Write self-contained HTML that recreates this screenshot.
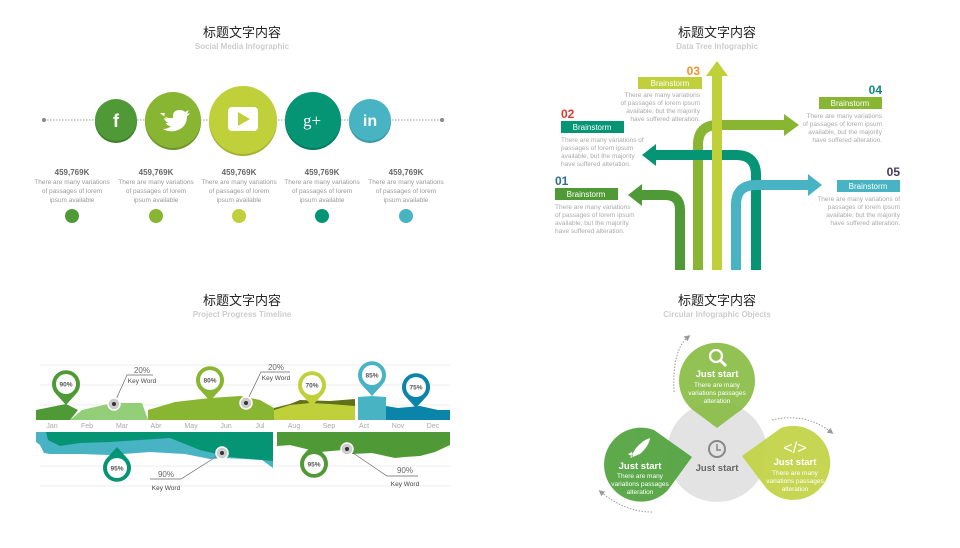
<!DOCTYPE html>
<html><head><meta charset="utf-8"><style>
html,body{margin:0;padding:0;background:#fff;}
svg{display:block;font-family:"Liberation Sans","Noto Sans CJK SC",sans-serif;}
</style></head><body>
<svg width="960" height="548" viewBox="0 0 960 548" xmlns="http://www.w3.org/2000/svg">
<defs>
<marker id="ah" markerWidth="6" markerHeight="6" refX="3" refY="3" orient="auto"><path d="M0,0 L6,3 L0,6 Z" fill="#999"/></marker>
</defs>
<!-- ============ TOP LEFT ============ -->
<text x="242" y="37" font-size="13" text-anchor="middle" fill="#222">标题文字内容</text>
<text x="242" y="49" font-size="8" font-weight="bold" text-anchor="middle" fill="#ccc">Social Media Infographic</text>
<line x1="44" y1="120" x2="442" y2="120" stroke="#999" stroke-width="1" stroke-dasharray="1.5,1.5"/>
<circle cx="44" cy="120" r="2" fill="#888"/><circle cx="442" cy="120" r="2" fill="#888"/>
<circle cx="116" cy="122" r="21" fill="#3e7d2a"/><circle cx="116" cy="120" r="21" fill="#4f9a36"/>
<circle cx="173" cy="122" r="28" fill="#6e9428"/><circle cx="173" cy="120" r="28" fill="#88b632"/>
<circle cx="243" cy="122" r="34" fill="#a3b22f"/><circle cx="243" cy="120" r="34" fill="#c0d03a"/>
<circle cx="313" cy="122" r="28" fill="#037a5f"/><circle cx="313" cy="120" r="28" fill="#059474"/>
<circle cx="370" cy="122" r="21" fill="#3a98a6"/><circle cx="370" cy="120" r="21" fill="#48b3c3"/>
<text x="116" y="127" font-size="18" font-weight="bold" text-anchor="middle" fill="#fff">f</text>
<path d="M160,113 q6,6 13,5 q-1,-8 7,-8 q3,0 5,2 l4,-2 l-2,4 l3,-1 q-1,2 -3,3 q0,12 -12,15 q-7,1 -12,-2 q5,0 8,-3 q-4,0 -5,-3 l3,0 q-4,-1 -5,-5 l3,1 q-4,-3 -2,-6 z" fill="#fff"/>
<rect x="228" y="107" width="30" height="24" rx="4" fill="#fff"/>
<path d="M238,112 L250,119 L238,126 Z" fill="#c0d03a"/>
<text x="312" y="126" font-size="17" font-family="Liberation Serif,serif" text-anchor="middle" fill="#fff">g+</text>
<text x="370" y="126" font-size="16" font-weight="bold" text-anchor="middle" fill="#fff">in</text>
<g font-size="6.5" text-anchor="middle" fill="#999">
<g transform="translate(72,0)"><text y="175" font-size="8" font-weight="bold" fill="#666">459,769K</text><text y="184">There are many variations</text><text y="193">of passages of lorem</text><text y="202">ipsum available</text></g>
<g transform="translate(156,0)"><text y="175" font-size="8" font-weight="bold" fill="#666">459,769K</text><text y="184">There are many variations</text><text y="193">of passages of lorem</text><text y="202">ipsum available</text></g>
<g transform="translate(239,0)"><text y="175" font-size="8" font-weight="bold" fill="#666">459,769K</text><text y="184">There are many variations</text><text y="193">of passages of lorem</text><text y="202">ipsum available</text></g>
<g transform="translate(322,0)"><text y="175" font-size="8" font-weight="bold" fill="#666">459,769K</text><text y="184">There are many variations</text><text y="193">of passages of lorem</text><text y="202">ipsum available</text></g>
<g transform="translate(406,0)"><text y="175" font-size="8" font-weight="bold" fill="#666">459,769K</text><text y="184">There are many variations</text><text y="193">of passages of lorem</text><text y="202">ipsum available</text></g>
</g>
<circle cx="72" cy="216" r="7" fill="#4f9a36"/><circle cx="156" cy="216" r="7" fill="#88b632"/><circle cx="239" cy="216" r="7" fill="#c0d03a"/><circle cx="322" cy="216" r="7" fill="#059474"/><circle cx="406" cy="216" r="7" fill="#48b3c3"/>

<!-- ============ TOP RIGHT ============ -->
<text x="717" y="37" font-size="13" text-anchor="middle" fill="#222">标题文字内容</text>
<text x="717" y="49" font-size="8" font-weight="bold" text-anchor="middle" fill="#ccc">Data Tree Infographic</text>
<g fill="none" stroke-width="10">
<path d="M698,270 V145 Q698,125 718,125 H785" stroke="#88b632"/>
<path d="M756,270 V175 Q756,155 736,155 H655" stroke="#059474"/>
<path d="M680,270 V210 Q680,195 665,195 H640" stroke="#4f9a36"/>
<path d="M736,270 V205 Q736,185 756,185 H810" stroke="#48b3c3"/>
<path d="M717,270 V75" stroke="#c0d03a"/>
</g>
<path d="M784,114 L799,125 L784,136 Z" fill="#88b632"/>
<path d="M656,144 L642,155 L656,166 Z" fill="#059474"/>
<path d="M642,184 L628,195 L642,206 Z" fill="#4f9a36"/>
<path d="M808,174 L822,185 L808,196 Z" fill="#48b3c3"/>
<path d="M706,76 L717,61 L728,76 Z" fill="#c0d03a"/>
<g font-size="8" fill="#fff" text-anchor="middle">
<rect x="638" y="77" width="64" height="12" fill="#c0d03a"/><text x="670" y="86">Brainstorm</text>
<rect x="561" y="121" width="63" height="12" fill="#059474"/><text x="592" y="130">Brainstorm</text>
<rect x="819" y="97" width="63" height="12" fill="#88b632"/><text x="850" y="106">Brainstorm</text>
<rect x="555" y="188" width="63" height="12" fill="#4f9a36"/><text x="586" y="197">Brainstorm</text>
<rect x="837" y="180" width="63" height="12" fill="#48b3c3"/><text x="868" y="189">Brainstorm</text>
</g>
<g font-size="12" font-weight="bold">
<text x="700" y="75" fill="#f0932b" text-anchor="end">03</text>
<text x="561" y="118" fill="#d93a2b">02</text>
<text x="882" y="94" fill="#0a8a75" text-anchor="end">04</text>
<text x="555" y="185" fill="#2f6e8e">01</text>
<text x="900" y="176" fill="#4a3a5a" text-anchor="end">05</text>
</g>
<g font-size="6.5" fill="#aaa">
<g text-anchor="end"><text x="700" y="97">There are many variations</text><text x="700" y="105">of passages of lorem ipsum</text><text x="700" y="113">available, but the majority</text><text x="700" y="121">have suffered alteration.</text></g>
<text x="561" y="142">There are many variations of</text><text x="561" y="150">passages of lorem ipsum</text><text x="561" y="158">available, but the majority</text><text x="561" y="166">have suffered alteration.</text>
<g text-anchor="end"><text x="882" y="118">There are many variations</text><text x="882" y="126">of passages of lorem ipsum</text><text x="882" y="134">available, but the majority</text><text x="882" y="142">have suffered alteration.</text></g>
<text x="555" y="209">There are many variations</text><text x="555" y="217">of passages of lorem ipsum</text><text x="555" y="225">available, but the majority</text><text x="555" y="233">have suffered alteration.</text>
<g text-anchor="end"><text x="900" y="201">There are many variations of</text><text x="900" y="209">passages of lorem ipsum</text><text x="900" y="217">available, but the majority</text><text x="900" y="225">have suffered alteration.</text></g>
</g>

<!-- ============ BOTTOM LEFT ============ -->
<text x="242" y="305" font-size="13" text-anchor="middle" fill="#222">标题文字内容</text>
<text x="242" y="317" font-size="8" font-weight="bold" text-anchor="middle" fill="#ccc">Project Progress Timeline</text>
<g stroke="#eee" stroke-width="1">
<line x1="40" y1="365" x2="450" y2="365"/><line x1="40" y1="385" x2="450" y2="385"/><line x1="40" y1="405" x2="450" y2="405"/>
<line x1="40" y1="446" x2="450" y2="446"/><line x1="40" y1="466" x2="450" y2="466"/><line x1="40" y1="486" x2="450" y2="486"/>
</g>
<path d="M36,420 V410 L66,404 L78,410 L70,420 Z" fill="#4f9a36"/>
<path d="M70,420 L82,410 L112,403 L142,403 L148,420 Z" fill="#93cf78"/>
<path d="M148,420 V410 L175,402 L210,398 L240,396 L260,400 L274,408 V420 Z" fill="#88b632"/>
<path d="M274,420 V408 L290,404 L300,400 L330,401 L355,399 V420 Z" fill="#5f7018"/>
<path d="M274,420 V410 L290,405 L310,403 L330,404 L355,406 V420 Z" fill="#c0d03a"/>
<path d="M358,420 V397 L372,396 L386,397 V420 Z" fill="#48b3c3"/>
<path d="M386,420 V406 L398,408 L420,406 L438,410 L450,410 V420 Z" fill="#0a84a8"/>
<g font-size="7" fill="#aaa" text-anchor="middle">
<text x="52" y="428">Jan</text><text x="87" y="428">Feb</text><text x="122" y="428">Mar</text><text x="156" y="428">Abr</text><text x="191" y="428">May</text><text x="226" y="428">Jun</text><text x="260" y="428">Jul</text><text x="294" y="428">Aug</text><text x="329" y="428">Sep</text><text x="364" y="428">Act</text><text x="398" y="428">Nov</text><text x="433" y="428">Dec</text>
</g>
<path d="M36,432 H273 V468 L262,460 L225,458 L210,459 L185,454 L150,452 L110,455 L80,454 L50,454 L44,453 L40,445 L36,442 Z" fill="#48b3c3"/>
<path d="M46,432 H273 V461 L230,457 L200,450 L170,438 L110,442 L80,443 L60,446 L48,440 Z" fill="#059474"/>
<path d="M277,432 H450 V445 L435,452 L420,456 L405,457 L395,458 L372,453 L352,454 L343,450 L320,452 L302,448 L290,445 L277,446 Z" fill="#4f9a36"/>
<!-- pins -->
<g font-size="6.5" text-anchor="middle" fill="#555" font-weight="bold">
<path d="M56,394 A14,14 0 1 1 76,394 L66,405 Z" fill="#4f9a36"/><circle cx="66" cy="384" r="10" fill="#fff"/><text x="66" y="386.5">90%</text>
<path d="M200,390 A14,14 0 1 1 220,390 L210,401 Z" fill="#88b632"/><circle cx="210" cy="380" r="10" fill="#fff"/><text x="210" y="382.5">80%</text>
<path d="M302,395 A14,14 0 1 1 322,395 L312,406 Z" fill="#c0d03a"/><circle cx="312" cy="385" r="10" fill="#fff"/><text x="312" y="387.5">70%</text>
<path d="M362,385 A14,14 0 1 1 382,385 L372,396 Z" fill="#48b3c3"/><circle cx="372" cy="375" r="10" fill="#fff"/><text x="372" y="377.5">85%</text>
<path d="M406,397 A14,14 0 1 1 426,397 L416,408 Z" fill="#0a84a8"/><circle cx="416" cy="387" r="10" fill="#fff"/><text x="416" y="389.5">75%</text>
<path d="M107,458 A14,14 0 1 0 127,458 L117,447 Z" fill="#059474"/><circle cx="117" cy="468" r="10" fill="#fff"/><text x="117" y="470.5">95%</text>
<path d="M304,454 A14,14 0 1 0 324,454 L314,443 Z" fill="#4f9a36"/><circle cx="314" cy="464" r="10" fill="#fff"/><text x="314" y="466.5">95%</text>
</g>
<g stroke="#666" stroke-width="0.7" fill="none">
<path d="M114,404 L127,375 H153"/><path d="M246,403 L261,372 H290"/><path d="M222,453 L181,479 H150"/><path d="M347,449 L387,476 H418"/>
</g>
<g>
<circle cx="114" cy="404" r="6" fill="#ccc" stroke="#fff" stroke-width="1.5"/><circle cx="114" cy="404" r="2" fill="#333"/>
<circle cx="246" cy="403" r="6" fill="#ccc" stroke="#fff" stroke-width="1.5"/><circle cx="246" cy="403" r="2" fill="#333"/>
<circle cx="222" cy="453" r="6" fill="#ccc" stroke="#fff" stroke-width="1.5"/><circle cx="222" cy="453" r="2" fill="#333"/>
<circle cx="347" cy="449" r="6" fill="#ccc" stroke="#fff" stroke-width="1.5"/><circle cx="347" cy="449" r="2" fill="#333"/>
</g>
<g font-size="8" fill="#666" text-anchor="middle">
<text x="142" y="373">20%</text><text x="142" y="383" font-size="6.5" fill="#444">Key Word</text>
<text x="276" y="370">20%</text><text x="276" y="380" font-size="6.5" fill="#444">Key Word</text>
<text x="166" y="477">90%</text><text x="166" y="490" font-size="6.5" fill="#444">Key Word</text>
<text x="405" y="473">90%</text><text x="405" y="486" font-size="6.5" fill="#444">Key Word</text>
</g>

<!-- ============ BOTTOM RIGHT ============ -->
<text x="717" y="305" font-size="13" text-anchor="middle" fill="#222">标题文字内容</text>
<text x="717" y="317" font-size="8" font-weight="bold" text-anchor="middle" fill="#ccc">Circular Infographic Objects</text>
<circle cx="717" cy="452" r="50" fill="#e3e3e3"/>
<g opacity="0.95">
<path d="M697,413 A38,38 0 1 1 737,413 L717,428 Z" fill="#8dbf4b"/>
<path d="M654,430 A37,37 0 1 0 668,490 L692,457 Z" fill="#56a443"/>
<path d="M781,428 A37,37 0 1 1 766,488 L742,456 Z" fill="#c3d44a"/>
</g>
<g fill="none" stroke="#999" stroke-width="1" stroke-dasharray="1.5,1.5">
<path d="M674,392 Q672,350 688,337" marker-end="url(#ah)"/>
<path d="M772,420 Q805,412 831,432" marker-end="url(#ah)"/>
<path d="M652,512 Q625,512 601,492" marker-end="url(#ah)"/>
</g>
<!-- icons -->
<circle cx="716" cy="356" r="6" fill="none" stroke="#fff" stroke-width="2.2"/><line x1="720" y1="360" x2="726" y2="366" stroke="#fff" stroke-width="3"/>
<path d="M630,458 L636,448 Q643,440 650,438 Q649,446 640,454 Z M632,452 L628,454 L633,457 Z" fill="#fff"/>
<text x="795" y="453" font-size="16" fill="#fff" text-anchor="middle">&lt;/&gt;</text>
<circle cx="717" cy="449" r="8" fill="none" stroke="#888" stroke-width="2"/><path d="M717,444 V450 H721" fill="none" stroke="#888" stroke-width="1.5"/>
<g text-anchor="middle" fill="#fff">
<text x="717" y="377" font-size="9.5" font-weight="bold">Just start</text>
<text x="717" y="387" font-size="6.5">There are many</text><text x="717" y="395" font-size="6.5">variations passages</text><text x="717" y="403" font-size="6.5">alteration</text>
<text x="640" y="469" font-size="9.5" font-weight="bold">Just start</text>
<text x="640" y="478" font-size="6.5">There are many</text><text x="640" y="486" font-size="6.5">variations passages</text><text x="640" y="494" font-size="6.5">alteration</text>
<text x="795" y="465" font-size="9.5" font-weight="bold">Just start</text>
<text x="795" y="475" font-size="6.5">There are many</text><text x="795" y="483" font-size="6.5">variations passages</text><text x="795" y="491" font-size="6.5">alteration</text>
</g>
<text x="717" y="471" font-size="9.5" font-weight="bold" text-anchor="middle" fill="#666">Just start</text>
</svg>
</body></html>
